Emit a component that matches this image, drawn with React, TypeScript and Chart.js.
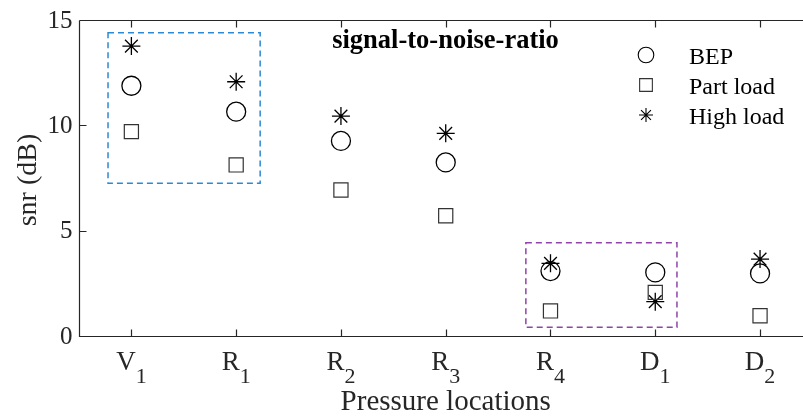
import React, { useEffect, useRef } from 'react';
import { Chart, registerables } from 'chart.js';

Chart.register(...registerables);

// ---- data ----
const categories = ['V1', 'R1', 'R2', 'R3', 'R4', 'D1', 'D2'];
const bep = [11.88, 10.65, 9.26, 8.24, 3.08, 3.02, 2.97];
const partLoad = [9.7, 8.12, 6.93, 5.71, 1.19, 2.07, 0.96];
const highLoad = [13.76, 12.07, 10.44, 9.62, 3.45, 1.63, 3.65];
const yTicks = [0, 5, 10, 15];
const seriesLabels = ['BEP', 'Part load', 'High load'];
const titleText = 'signal-to-noise-ratio';
const xTitle = 'Pressure locations';
const yTitle = 'snr (dB)';
// highlight boxes in data units: [xMin, xMax, yMin, yMax]
const blueBox = [0.777, 2.229, 7.25, 14.4];
const purpleBox = [4.765, 6.207, 0.41, 4.43];

const FONT = '"Liberation Serif", "Times New Roman", serif';
const AXIS = '#262626';

function toPoints(vals: number[]) {
  return vals.map((v, i) => ({ x: i + 1, y: v }));
}

function drawMarker(ctx: CanvasRenderingContext2D, style: string, x: number, y: number, r: number, color: string, lw: number) {
  ctx.save();
  ctx.strokeStyle = color;
  ctx.lineWidth = lw;
  ctx.beginPath();
  if (style === 'circle') {
    ctx.arc(x, y, r, 0, Math.PI * 2);
  } else if (style === 'rect') {
    const s = r * Math.SQRT1_2;
    ctx.rect(x - s, y - s, 2 * s, 2 * s);
  } else {
    for (let k = 0; k < 4; k++) {
      const a = (k * Math.PI) / 4;
      ctx.moveTo(x - Math.cos(a) * r, y - Math.sin(a) * r);
      ctx.lineTo(x + Math.cos(a) * r, y + Math.sin(a) * r);
    }
  }
  ctx.stroke();
  ctx.restore();
}

const styles = [
  { pointStyle: 'circle', radius: 9.5, color: '#000', lw: 1.3, legendR: 7.8 },
  { pointStyle: 'rect', radius: 10, color: '#333', lw: 1.2, legendR: 9 },
  { pointStyle: 'star', radius: 9, color: '#000', lw: 1.3, legendR: 7 },
];

const decor = {
  id: 'decor',
  beforeDatasetsDraw(chart: any) {
    const { ctx, scales } = chart;
    const x = scales.x;
    const y = scales.y;
    const box = (b: number[], color: string) => {
      ctx.save();
      ctx.strokeStyle = color;
      ctx.lineWidth = 1.5;
      ctx.setLineDash([6, 4]);
      const l = x.getPixelForValue(b[0]);
      const r = x.getPixelForValue(b[1]);
      const t = y.getPixelForValue(b[3]);
      const bt = y.getPixelForValue(b[2]);
      ctx.strokeRect(l, t, r - l, bt - t);
      ctx.restore();
    };
    box(blueBox, '#2b8ad3');
    box(purpleBox, '#8e44a8');
  },
  afterDraw(chart: any) {
    const { ctx, chartArea, scales } = chart;
    const xs = scales.x;
    const ys = scales.y;
    const left = Math.round(chartArea.left) + 0.5;
    const top = Math.round(chartArea.top) + 0.5;
    const bottom = Math.round(chartArea.bottom) + 0.5;
    const right = chartArea.right;
    ctx.save();
    ctx.strokeStyle = AXIS;
    ctx.lineWidth = 1.2;
    ctx.beginPath();
    ctx.moveTo(left, top);
    ctx.lineTo(right, top);
    ctx.moveTo(left, top);
    ctx.lineTo(left, bottom);
    ctx.lineTo(right, bottom);
    // x ticks
    categories.forEach((_, i) => {
      const px = Math.round(xs.getPixelForValue(i + 1)) + 0.5;
      ctx.moveTo(px, bottom);
      ctx.lineTo(px, bottom - 7);
      ctx.moveTo(px, top);
      ctx.lineTo(px, top + 7);
    });
    yTicks.forEach((v) => {
      const py = Math.round(ys.getPixelForValue(v)) + 0.5;
      ctx.moveTo(left, py);
      ctx.lineTo(left + 7, py);
    });
    ctx.stroke();

    // y tick labels
    ctx.fillStyle = AXIS;
    ctx.font = `25px ${FONT}`;
    ctx.textAlign = 'right';
    ctx.textBaseline = 'middle';
    yTicks.forEach((v) => {
      ctx.fillText(String(v), left - 7, ys.getPixelForValue(v) + 1);
    });

    // x tick labels with subscripts
    ctx.textAlign = 'left';
    ctx.textBaseline = 'alphabetic';
    categories.forEach((c, i) => {
      const main = c.slice(0, 1);
      const sub = c.slice(1);
      ctx.font = `27px ${FONT}`;
      const wm = ctx.measureText(main).width;
      ctx.font = `22px ${FONT}`;
      const ws = ctx.measureText(sub).width;
      const px = xs.getPixelForValue(i + 1);
      const start = px - (wm + ws) / 2;
      ctx.font = `27px ${FONT}`;
      ctx.fillText(main, start, bottom + 33);
      ctx.font = `22px ${FONT}`;
      ctx.fillText(sub, start + wm, bottom + 46.5);
    });

    // axis titles
    const xMid = (chartArea.left + xs.getPixelForValue(7.5)) / 2;
    ctx.font = `29px ${FONT}`;
    ctx.textAlign = 'center';
    ctx.fillText(xTitle, xMid, 410);
    ctx.save();
    ctx.translate(29, 180);
    ctx.rotate(-Math.PI / 2);
    ctx.textBaseline = 'middle';
    ctx.font = `28px ${FONT}`;
    ctx.fillText(yTitle, 0, 0);
    ctx.restore();

    // title
    ctx.fillStyle = '#000';
    ctx.font = `bold 26.5px ${FONT}`;
    ctx.textAlign = 'center';
    ctx.textBaseline = 'alphabetic';
    ctx.fillText(titleText, 445.5, 48);

    // legend
    ctx.font = `24px ${FONT}`;
    ctx.textAlign = 'left';
    seriesLabels.forEach((lab, i) => {
      const cy = 55 + i * 30;
      const st = styles[i];
      drawMarker(ctx, st.pointStyle, 646, cy, st.legendR, st.color, 1.1);
      ctx.fillStyle = '#000';
      ctx.fillText(lab, 689, cy + 9);
    });
    ctx.restore();
  },
};

export default function App() {
  const ref = useRef<HTMLCanvasElement | null>(null);
  useEffect(() => {
    if (!ref.current) return;
    const seriesData = [bep, partLoad, highLoad];
    const chart = new Chart(ref.current, {
      type: 'scatter',
      data: {
        datasets: seriesData.map((vals, i) => ({
          label: seriesLabels[i],
          data: toPoints(vals),
          pointStyle: styles[i].pointStyle as any,
          pointRadius: styles[i].radius,
          pointBorderColor: styles[i].color,
          pointBackgroundColor: 'rgba(0,0,0,0)',
          pointBorderWidth: styles[i].lw,
          borderColor: styles[i].color,
          backgroundColor: 'rgba(0,0,0,0)',
          showLine: false,
        })),
      },
      options: {
        animation: false,
        responsive: false,
        devicePixelRatio: 1,
        layout: { autoPadding: false, padding: { left: 79, top: 20, right: 0, bottom: 83 } },
        plugins: { legend: { display: false }, tooltip: { enabled: false } },
        scales: {
          x: { type: 'linear', min: 0.5, max: 7.41, display: false },
          y: { type: 'linear', min: 0, max: 15, display: false },
        },
      },
      plugins: [decor],
    });
    return () => chart.destroy();
  }, []);
  return (
    <div style={{ position: 'fixed', left: 0, top: 0, width: 803, height: 419, background: '#fff' }}>
      <canvas ref={ref} width={803} height={419} style={{ display: 'block' }} />
    </div>
  );
}
